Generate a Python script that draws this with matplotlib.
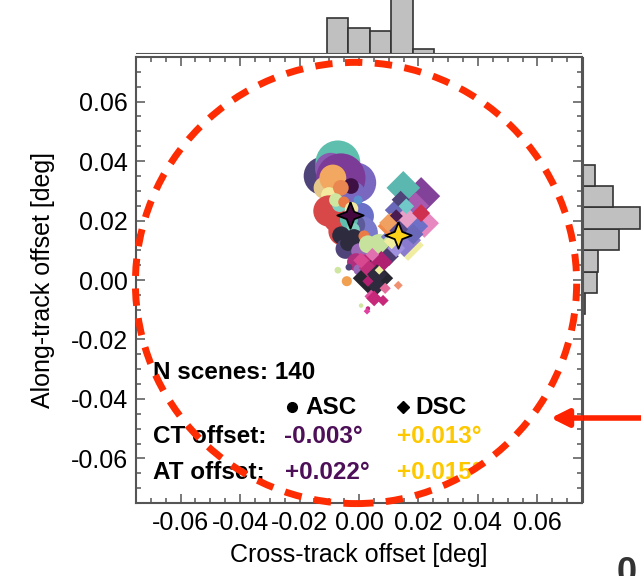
import matplotlib
matplotlib.use('Agg')
import matplotlib.pyplot as plt
import numpy as np
from matplotlib.patches import Circle
from matplotlib.ticker import MultipleLocator, FormatStrFormatter

plt.rcParams['font.family'] = ['Liberation Sans', 'DejaVu Sans']

# ascending scenes: cross-track / along-track offset [deg], marker radius, colour
asc_ct = [-0.0122, -0.0071, -0.0095, -0.0040, -0.0010, -0.0061, -0.0115, -0.0088, -0.0020,
          -0.0027, -0.0101, -0.0061, -0.0101, -0.0080, 0.0005, -0.0065, -0.0078, -0.0051,
          -0.0003, -0.0025, 0.0007, -0.0054, -0.0017, -0.0034, -0.0020, -0.0060, -0.0045,
          -0.0037, -0.0017, 0.0017, 0.0014, 0.0000, 0.0068, 0.0030, -0.0010, 0.0017,
          0.0047, 0.0074, 0.0040, 0.0000, -0.0071, -0.0034, -0.0041, 0.0000, 0.0030,
          0.0007, 0.0030]
asc_at = [0.0350, 0.0394, 0.0375, 0.0370, 0.0327, 0.0343, 0.0310, 0.0343, 0.0290,
          0.0316, 0.0286, 0.0310, 0.0232, 0.0200, 0.0215, 0.0255, 0.0269, 0.0262,
          0.0269, 0.0240, 0.0158, 0.0164, 0.0185, 0.0202, 0.0170, 0.0150, 0.0105,
          0.0124, 0.0141, 0.0148, 0.0090, 0.0097, 0.0117, 0.0120, 0.0060, 0.0063,
          0.0073, 0.0067, 0.0030, 0.0035, 0.0033, 0.0043, -0.0004, 0.0006, -0.0004,
          -0.0086, -0.0096]
asc_r = [17, 20, 14, 12, 18, 22, 10, 12, 11,
         7, 7, 7, 14, 10, 12, 7, 6, 5,
         4, 6, 15, 13, 10, 8, 6, 8, 9,
         7, 8, 5, 9, 7, 10, 8, 8, 6,
         5, 5, 6, 5, 3, 3, 4.5, 3, 3,
         2, 2]
asc_col = ['#4e4479', '#5fbfae', '#8a5ab0', '#6a50a0', '#7a68c0', '#7b3b96', '#e6c88a', '#f2a860', '#7a68c0',
           '#3e1044', '#f3eaa0', '#ea8650', '#d84848', '#d84848', '#6a70c8', '#7fd0c0', '#cfe6a0', '#ea7a46',
           '#5a90d0', '#f3eaa0', '#7a7acc', '#d84848', '#5d5a9a', '#5fbfae', '#7fd0c0', '#2d2b3d', '#4e4479',
           '#2d2b3d', '#2d2b3d', '#ea7a46', '#8a78c8', '#9a6ab8', '#c6e29c', '#c6e29c', '#b03080', '#c2287a',
           '#c2287a', '#e070b0', '#d84890', '#9a6ab8', '#cfe6a0', '#4e4479', '#f0a050', '#7a5ab0', '#e070b0',
           '#cfe6a0', '#c2287a']

# descending scenes
dsc_ct = [0.0165, 0.0209, 0.0149, 0.0190, 0.0220, 0.0047, 0.0152, 0.0176, 0.0115, 0.0132,
          0.0160, 0.0108, 0.0140, 0.0209, 0.0159, 0.0125, 0.0091, 0.0100, 0.0075, 0.0135,
          0.0098, 0.0183, 0.0125, 0.0110, 0.0030, 0.0061, 0.0060, 0.0007, 0.0045, 0.0068,
          0.0041, 0.0051, 0.0081, 0.0030, 0.0088, 0.0132, 0.0027]
dsc_at = [0.0117, 0.0282, 0.0310, 0.0250, 0.0191, 0.0006, 0.0134, 0.0181, 0.0145, 0.0235,
          0.0210, 0.0181, 0.0270, 0.0225, 0.0248, 0.0215, 0.0107, 0.0080, 0.0060, 0.0167,
          0.0192, 0.0154, 0.0107, 0.0130, 0.0040, 0.0019, -0.0020, 0.0066, 0.0085, 0.0033,
          -0.0055, -0.0062, -0.0069, -0.0004, -0.0028, -0.0018, -0.0105]
dsc_r = [14, 17, 15, 12, 13, 18, 15, 15, 11, 12,
         10, 12, 8, 8, 7, 6, 10, 9, 10, 9,
         8, 9, 8, 7, 8, 9, 8, 7, 6, 4,
         6, 7, 5, 5, 5, 4, 3]
dsc_col = ['#f0eca0', '#83429a', '#5bb8b0', '#a85ab0', '#e888c0', '#252530', '#8a7ad0', '#6e70c8', '#7a7acc', '#6a68b8',
           '#e8a0c8', '#ef8a4a', '#4e4479', '#d03050', '#70c8c8', '#4a1a50', '#c6e29c', '#4a3a70', '#b02070', '#5a4a8a',
           '#f0a060', '#6a68b8', '#a090e0', '#f0eca0', '#c0307a', '#2d2b3d', '#2d2b3d', '#d84890', '#e070b0', '#f0f0a0',
           '#e050a0', '#c8287a', '#c8287a', '#b02070', '#e46a9a', '#f09070', '#e040a0']

asc_mean = (-0.003, 0.022)
dsc_mean = (0.013, 0.015)
n_scenes = 140

# marginal histograms
ct_edges = [-0.0108, -0.0036, 0.0036, 0.0108, 0.0180, 0.0252]
ct_counts = [35, 25, 22, 53, 5]
at_edges = [-0.0116, -0.0044, 0.0028, 0.0100, 0.0172, 0.0244, 0.0316, 0.0388]
at_counts = [2, 14, 15, 36, 57, 30, 12]

W, H = 641, 576
fig = plt.figure(figsize=(W / 100, H / 100), dpi=100)

l, r, t, b = 136, 582, 57, 503
ax = fig.add_axes([l / W, 1 - b / H, (r - l) / W, (b - t) / H])
ax.set_xlim(-0.075, 0.075)
ax.set_ylim(-0.075, 0.075)

k = 1.12
ax.scatter(asc_ct, asc_at, s=(1.44 * k * np.array(asc_r)) ** 2, c=asc_col, marker='o',
           linewidths=0, zorder=2)
ax.scatter(dsc_ct, dsc_at, s=(1.02 * k * np.array(dsc_r)) ** 2, c=dsc_col, marker='D',
           linewidths=0, zorder=3)

star = [(0, 1), (0.28, 0.28), (1, 0), (0.28, -0.28), (0, -1), (-0.28, -0.28), (-1, 0), (-0.28, 0.28), (0, 1)]
ax.scatter(*asc_mean, s=360, marker=star, c='#44083f', edgecolors='black', linewidths=1.3, zorder=5)
ax.scatter(*dsc_mean, s=360, marker=star, c='#ffd21a', edgecolors='black', linewidths=1.3, zorder=5)

ax.add_patch(Circle((-0.001, -0.001), 0.0742, fill=False, ec='#fe2c02', lw=5,
                    ls=(0, (2.5, 1.8)), clip_on=False, zorder=10))

ax.xaxis.set_major_locator(MultipleLocator(0.02))
ax.xaxis.set_minor_locator(MultipleLocator(0.005))
ax.yaxis.set_major_locator(MultipleLocator(0.02))
ax.yaxis.set_minor_locator(MultipleLocator(0.005))
ax.xaxis.set_major_formatter(FormatStrFormatter('%.2f'))
ax.yaxis.set_major_formatter(FormatStrFormatter('%.2f'))
ax.tick_params(which='both', direction='in', top=True, right=True, color='#555555', width=1.1)
ax.tick_params(which='major', length=6.5, labelsize=18, pad=6)
ax.tick_params(which='minor', length=3.5)
for sp in ax.spines.values():
    sp.set_color('#555555')
    sp.set_linewidth(1.5)

ax.set_xlabel('Cross-track offset [deg]', fontsize=18)
ax.set_ylabel('Along-track offset [deg]', fontsize=18)
ax.xaxis.set_label_coords(0.5, -0.117)
ax.xaxis.label.set_va('center')
ax.yaxis.set_label_coords(-0.209, 0.5)
ax.yaxis.label.set_va('center')

# statistics text
fs = 17.5
purple, gold = '#4d0f57', '#fdc800'
tk = dict(transform=ax.transAxes, fontsize=fs, fontweight='bold', va='center', zorder=6)
ax.text(0.038, 0.2915, 'N scenes: %d' % n_scenes, **tk)
ax.plot([0.350], [0.215], 'o', ms=7, color='black', transform=ax.transAxes, clip_on=False)
ax.text(0.379, 0.215, 'ASC', **tk)
ax.plot([0.599], [0.215], 'D', ms=6.5, color='black', transform=ax.transAxes, clip_on=False)
ax.text(0.626, 0.215, 'DSC', **tk)
ax.text(0.038, 0.148, 'CT offset:', **tk)
ax.text(0.332, 0.148, '%.3f°' % asc_mean[0], color=purple, **tk)
ax.text(0.585, 0.148, '%+.3f°' % dsc_mean[0], color=gold, **tk)
ax.text(0.038, 0.0695, 'AT offset:', **tk)
ax.text(0.334, 0.0695, '%+.3f°' % asc_mean[1], color=purple, **tk)
ax.text(0.585, 0.0695, '%+.3f°' % dsc_mean[1], color=gold, **tk)

# top histogram (cross-track)
ax_top = fig.add_axes([l / W, 1 - 54 / H, (r - l) / W, 54 / H])
ax_top.bar(ct_edges[:-1], ct_counts, width=np.diff(ct_edges), align='edge',
           color='#c0c0c0', edgecolor='#333333', lw=1.2)
ax_top.set_xlim(-0.075, 0.075)
ax_top.set_ylim(0, 52)
ax_top.axis('off')
ax_top.axhline(0, color='#555555', lw=1.5)

# right histogram (along-track)
ax_rt = fig.add_axes([583 / W, 1 - b / H, (W - 583) / W, (b - t) / H])
ax_rt.barh(at_edges[:-1], at_counts, height=np.diff(at_edges), align='edge',
           color='#c0c0c0', edgecolor='#333333', lw=1.2)
ax_rt.set_ylim(-0.075, 0.075)
ax_rt.set_xlim(0, 58)
ax_rt.axis('off')
ax_rt.axvline(0, color='#555555', lw=1.5)

# arrow and bit of neighbouring panel
ax.annotate('', xy=(548, H - 418), xycoords='figure pixels', xytext=(W + 5, H - 418),
            textcoords='figure pixels', annotation_clip=False,
            arrowprops=dict(arrowstyle='-|>', color='#ff2200', lw=4, mutation_scale=26))
fig.text(617 / W, -7 / H, '0', fontsize=26, fontweight='bold', color='#333333', va='baseline')

fig.savefig('out.png', dpi=100)
